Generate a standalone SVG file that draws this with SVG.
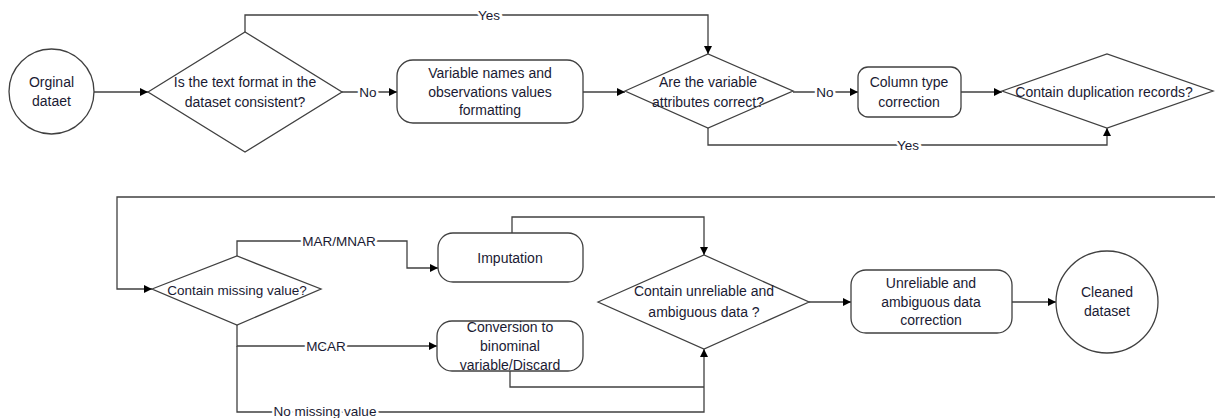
<svg xmlns="http://www.w3.org/2000/svg" width="1215" height="418" viewBox="0 0 1215 418">
<style>
.shape{fill:#fff;stroke:#404040;stroke-width:1.3}
.t{font-family:"Liberation Sans",Arial,sans-serif;font-size:14px;fill:#1a1a33;text-anchor:middle;dominant-baseline:central}
.c{fill:none;stroke:#404040;stroke-width:1.3}
.lbl{font-family:"Liberation Sans",Arial,sans-serif;font-size:13.5px;fill:#1a1a33;text-anchor:middle;dominant-baseline:central;stroke:#fff;stroke-width:5;paint-order:stroke}
</style>
<defs>
<marker id="arr" markerUnits="userSpaceOnUse" markerWidth="9" markerHeight="9" refX="8" refY="4" orient="auto">
<path d="M0,0 L8,4 L0,8 z" fill="#000"/>
</marker>
</defs>
<g id="connectors">
<path class="c" d="M94,92 H148" marker-end="url(#arr)"/>
<path class="c" d="M342,92 H397" marker-end="url(#arr)"/>
<path class="c" d="M245,32 V15 H708 V54" marker-end="url(#arr)"/>
<path class="c" d="M583,92 H625" marker-end="url(#arr)"/>
<path class="c" d="M793,92 H858" marker-end="url(#arr)"/>
<path class="c" d="M708,128 V145 H1107 V128" marker-end="url(#arr)"/>
<path class="c" d="M961,92 H1002" marker-end="url(#arr)"/>
<path class="c" d="M1215,197 H117 V289 H152" marker-end="url(#arr)"/>
<path class="c" d="M237,256 V241 H407 V268 H438" marker-end="url(#arr)"/>
<path class="c" d="M237,325 V346 H437" marker-end="url(#arr)"/>
<path class="c" d="M237,346 V412 H704 V349" marker-end="url(#arr)"/>
<path class="c" d="M512,233 V217 H704 V255" marker-end="url(#arr)"/>
<path class="c" d="M510,371 V387 H704"/>
<path class="c" d="M809,302 H851" marker-end="url(#arr)"/>
<path class="c" d="M1012,302 H1056" marker-end="url(#arr)"/>
<text class="lbl" x="368" y="92">No</text>
<text class="lbl" x="489" y="15">Yes</text>
<text class="lbl" x="825" y="92">No</text>
<text class="lbl" x="908" y="145">Yes</text>
<text class="lbl" x="339" y="241">MAR/MNAR</text>
<text class="lbl" x="326" y="346">MCAR</text>
<text class="lbl" x="325" y="411">No missing value</text>
</g>
<g id="start">
<ellipse class="shape" cx="51.5" cy="91.5" rx="42.5" ry="42.5"/>
<text class="t" x="51.5" y="82">Orginal</text>
<text class="t" x="51.5" y="101">dataet</text>
</g>
<g id="d1">
<polygon class="shape" points="148,92 245,32 342,92 245,152"/>
<text class="t" x="245" y="82">Is the text format in the</text>
<text class="t" x="245" y="102">dataset consistent?</text>
</g>
<g id="box1">
<rect class="shape" x="397" y="60" width="186" height="63" rx="16"/>
<text class="t" x="490" y="73">Variable names and</text>
<text class="t" x="490" y="92">observations values</text>
<text class="t" x="490" y="110">formatting</text>
</g>
<g id="d2">
<polygon class="shape" points="625,91 708,54 793,91 708,128"/>
<text class="t" x="708" y="82">Are the variable</text>
<text class="t" x="708" y="102">attributes correct?</text>
</g>
<g id="box2">
<rect class="shape" x="858" y="67" width="103" height="50" rx="10"/>
<text class="t" x="909" y="82">Column type</text>
<text class="t" x="909" y="102">correction</text>
</g>
<g id="d3">
<polygon class="shape" points="1002,91 1107,54 1213,91 1107,128"/>
<text class="t" x="1104" y="92">Contain duplication records?</text>
</g>
<g id="d4">
<polygon class="shape" points="152,289 237,256 321,289 237,325"/>
<text class="t" x="237" y="290" style="font-size:13.5px">Contain missing value?</text>
</g>
<g id="box3">
<rect class="shape" x="438" y="233" width="145" height="49" rx="15"/>
<text class="t" x="510" y="258">Imputation</text>
</g>
<g id="box4">
<rect class="shape" x="437" y="321" width="146" height="50" rx="15"/>
<text class="t" x="510" y="327">Conversion to</text>
<text class="t" x="510" y="346">binominal</text>
<text class="t" x="510" y="365">variable/Discard</text>
</g>
<g id="d5">
<polygon class="shape" points="598,302 704,255 809,302 704,349"/>
<text class="t" x="704" y="291">Contain unreliable and</text>
<text class="t" x="704" y="312">ambiguous data ?</text>
</g>
<g id="box5">
<rect class="shape" x="851" y="270" width="161" height="63" rx="15"/>
<text class="t" x="931" y="283">Unreliable and</text>
<text class="t" x="931" y="302">ambiguous data</text>
<text class="t" x="931" y="320">correction</text>
</g>
<g id="end">
<ellipse class="shape" cx="1107" cy="302" rx="51" ry="51"/>
<text class="t" x="1107" y="292">Cleaned</text>
<text class="t" x="1107" y="311">dataset</text>
</g>
</svg>
